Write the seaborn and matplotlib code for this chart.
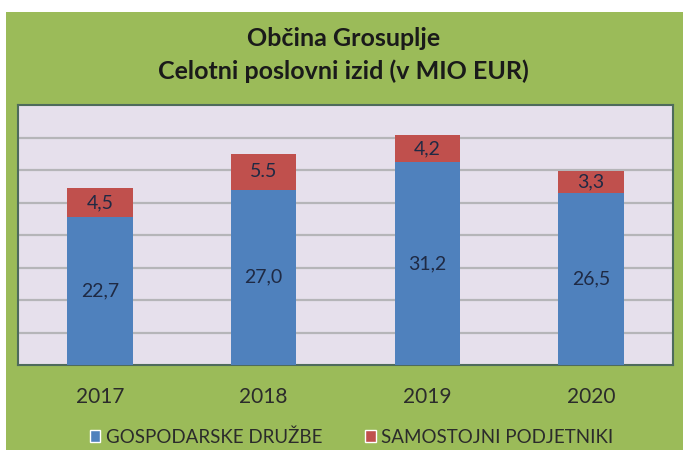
import matplotlib
matplotlib.use("Agg")
import matplotlib.pyplot as plt
from matplotlib.patches import Rectangle, Patch
import pandas as pd
import seaborn as sns

years = ["2017", "2018", "2019", "2020"]
druzbe = [22.7, 27.0, 31.2, 26.5]
podjetniki = [4.5, 5.5, 4.2, 3.3]
druzbe_labels = ["22,7", "27,0", "31,2", "26,5"]
podjetniki_labels = ["4,5", "5.5", "4,2", "3,3"]

df = pd.DataFrame({"leto": years, "druzbe": druzbe, "podjetniki": podjetniki})
df["skupaj"] = df["druzbe"] + df["podjetniki"]

sns.set_style("white")
plt.rcParams["font.family"] = ["Lato", "DejaVu Sans"]

BLUE = "#4F81BD"
RED = "#C0504D"
GREEN = "#9BBB59"
TXT = "#1F2A44"

fig = plt.figure(figsize=(6.83, 4.5), dpi=100, facecolor="white")
fig.patches.append(Rectangle((6 / 683, 0), 1, (450 - 12) / 450, transform=fig.transFigure,
                             facecolor=GREEN, edgecolor="none", zorder=-1))

ax = fig.add_axes([18 / 683, 85 / 450, 655 / 683, 260 / 450])
ax.set_facecolor("#E6E0EC")

sns.barplot(data=df, x="leto", y="skupaj", color=RED, width=0.4, saturation=1,
            linewidth=0, ax=ax, zorder=3)
sns.barplot(data=df, x="leto", y="druzbe", color=BLUE, width=0.4, saturation=1,
            linewidth=0, ax=ax, zorder=3)

ax.set_ylim(0, 40)
ax.set_yticks(range(5, 40, 5))
ax.yaxis.grid(True, color="#B5B5B8", linewidth=1.6, zorder=0)
ax.set_axisbelow(True)
ax.tick_params(axis="y", left=False, labelleft=False)
ax.tick_params(axis="x", bottom=False, labelsize=15, labelcolor="#2b2b2b", pad=12)
ax.set_xlabel("")
ax.set_ylabel("")
for s in ax.spines.values():
    s.set_color("#4E6B5C")
    s.set_linewidth(1.5)

for i in range(len(years)):
    ax.text(i, druzbe[i] / 2, druzbe_labels[i], ha="center", va="center",
            fontsize=14, color=TXT, zorder=5)
    ax.text(i, druzbe[i] + podjetniki[i] / 2, podjetniki_labels[i], ha="center", va="center",
            fontsize=14, color=TXT, zorder=5)

fig.text(0.503, 1 - 38 / 450, "Občina Grosuplje", ha="center", va="center",
         fontsize=18, fontweight="bold", color="#1a1a1a")
fig.text(0.503, 1 - 71 / 450, "Celotni poslovni izid (v MIO EUR)", ha="center", va="center",
         fontsize=18, fontweight="bold", color="#1a1a1a")

handles = [Patch(facecolor=BLUE, label="GOSPODARSKE DRUŽBE"),
           Patch(facecolor=RED, label="SAMOSTOJNI PODJETNIKI")]
fig.legend(handles=handles, loc="center", bbox_to_anchor=(0.515, 1 - 437 / 450), ncol=2,
           frameon=False, fontsize=13.5, handlelength=0.55, handleheight=0.55,
           handletextpad=0.3, columnspacing=2.3, labelcolor="#2b2b2b")

fig.savefig("out.png", dpi=100, facecolor=fig.get_facecolor())
